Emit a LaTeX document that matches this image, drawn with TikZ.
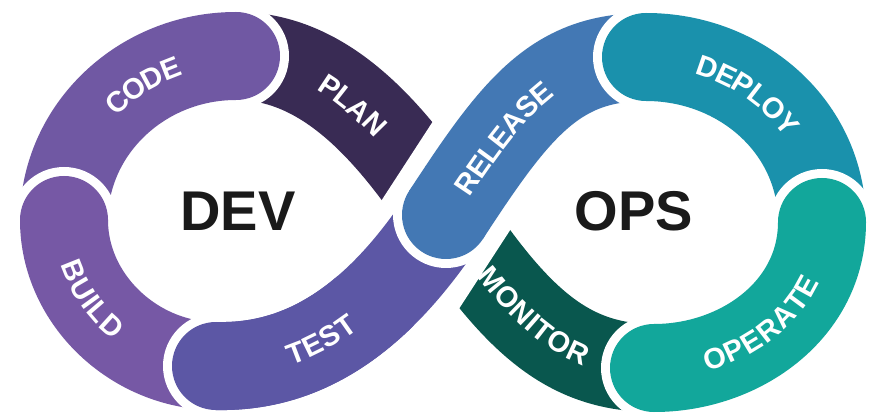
\documentclass[tikz,border=0pt]{standalone}
\usepackage{fontspec}
\setmainfont{Liberation Sans}
\usetikzlibrary{decorations.text}
\definecolor{cCode}{HTML}{7058A3}
\definecolor{cPlan}{HTML}{392B54}
\definecolor{cBuild}{HTML}{7658A5}
\definecolor{cTest}{HTML}{5C57A5}
\definecolor{cRel}{HTML}{4378B4}
\definecolor{cDep}{HTML}{1A91AC}
\definecolor{cOpe}{HTML}{12A79B}
\definecolor{cMon}{HTML}{09574E}
\definecolor{cDark}{HTML}{1A1A1A}
\newcommand\lblf{\fontsize{29}{29}\selectfont\bfseries}
\tikzset{
  band/.style={line width=88pt, line cap=butt},
  gapdisk/.style={fill=white},
  bigword/.style={font=\fontsize{56}{56}\selectfont\bfseries, text=cDark, inner sep=0pt},
}
\begin{document}
\begin{tikzpicture}[x=1pt,y=-1pt]
\fill[white] (0,0) rectangle (872,419);
\useasboundingbox (0,0) rectangle (872,419);
% key points
\coordinate (X) at (446,215);
\coordinate (J1) at (236,56);
\coordinate (J2) at (64,220);
\coordinate (J3) at (216,366);
\coordinate (J5) at (646,57);
\coordinate (J6) at (822,222);
\coordinate (J7) at (654,368);
\coordinate (Sa) at (386,307.3);
\coordinate (Sb) at (489.6,147.9);
% centre lines
\def\pPLAN{(J1) .. controls (326,56) and (390.5,131.8) .. (X)}
\def\pCODE{(J1) .. controls (141,56) and (64,130) .. (J2)}
\def\rCODE{(J2) .. controls (64,130) and (141,56) .. (J1)}
\def\pBUILD{(J2) .. controls (64,300) and (135,366) .. (J3)}
\def\pTEST{(J3) .. controls (300,368) and (375,324) .. (X)}
\def\pREL{(X) .. controls (517,106) and (556,57) .. (J5)}
\def\pDEP{(J5) .. controls (741,57) and (822,127) .. (J6)}
\def\pOPE{(J6) .. controls (822,310) and (740,368) .. (J7)}
\def\rOPE{(J7) .. controls (740,368) and (822,310) .. (J6)}
\def\pMON{(J7) .. controls (569,368) and (518,323) .. (X)}
\def\rMON{(X) .. controls (518,323) and (569,368) .. (J7)}
% PLAN / CODE
\draw[band, draw=cPlan] \pPLAN;
\fill[gapdisk] (J1) circle[radius=53];
\draw[band, draw=cCode] \pCODE;
\fill[cCode] (J1) circle[radius=44];
% BUILD
\fill[gapdisk] (J2) circle[radius=53];
\draw[band, draw=cBuild] \pBUILD;
\fill[cBuild] (J2) circle[radius=44];
% TEST
\fill[gapdisk] (J3) circle[radius=53];
\draw[band, draw=cTest] \pTEST;
\fill[cTest] (J3) circle[radius=44];
% MONITOR (under band)
\draw[band, draw=cMon] \pMON;
% crossing gap
\draw[white, line width=124pt] (Sa) -- (Sb);
\draw[band, draw=cTest] \pTEST;
\fill[gapdisk] (X) circle[radius=53];
% RELEASE (over band)
\draw[band, draw=cRel] \pREL;
\fill[cRel] (X) circle[radius=44];
% DEPLOY
\fill[gapdisk] (J5) circle[radius=53];
\draw[band, draw=cDep] \pDEP;
\fill[cDep] (J5) circle[radius=44];
% OPERATE
\fill[gapdisk] (J6) circle[radius=53];
\fill[gapdisk] (J7) circle[radius=53];
\draw[band, draw=cOpe] \pOPE;
\fill[cOpe] (J6) circle[radius=44];
\fill[cOpe] (J7) circle[radius=44];
% labels
\path[decorate, decoration={text along path, text color=white, raise=-10.4pt,
  text align={center, left indent=65pt}, text={|\lblf|CODE}}] \rCODE;
\path[decorate, decoration={text along path, text color=white, raise=-10.4pt,
  text align={center, right indent=15pt}, text={|\lblf|PLAN}}] \pPLAN;
\path[decorate, decoration={text along path, text color=white, raise=-10.4pt,
  text align={center, right indent=62pt}, text={|\lblf|BUILD}}] \pBUILD;
\path[decorate, decoration={text along path, text color=white, raise=-10.4pt,
  text align={center, right indent=69pt}, text={|\lblf|TEST}}] \pTEST;
\path[decorate, decoration={text along path, text color=white, raise=-10.4pt,
  text align={center, right indent=77pt}, text={|\lblf|RELEASE}}] \pREL;
\path[decorate, decoration={text along path, text color=white, raise=-10.4pt,
  text align={center, right indent=44pt}, text={|\lblf|DEPLOY}}] \pDEP;
\path[decorate, decoration={text along path, text color=white, raise=-10.4pt,
  text align={center, right indent=6pt}, text={|\lblf|OPERATE}}] \rOPE;
\path[decorate, decoration={text along path, text color=white, raise=-10.4pt,
  text align={center}, text={|\lblf|MONITOR}}] \rMON;
\node[bigword] (dev) at (238,211) {DEV};
\node[bigword] (ops) at (634,211) {OPS};
\end{tikzpicture}
\end{document}
